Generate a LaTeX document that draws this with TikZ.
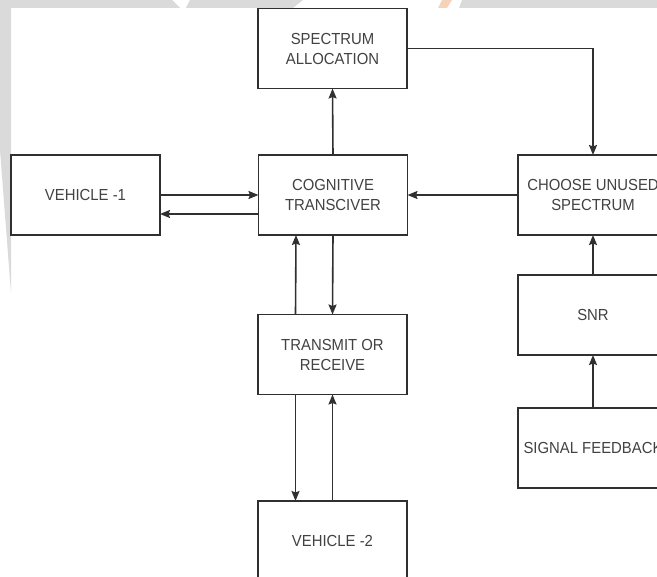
\documentclass[tikz,border=0pt]{standalone}
\usepackage{fontspec}
\setmainfont[FakeStretch=0.93]{Liberation Sans}
\usetikzlibrary{arrows.meta}
\definecolor{boxline}{HTML}{303030}
\definecolor{txt}{HTML}{424242}
\definecolor{wm}{HTML}{DADADA}
\definecolor{wmo}{HTML}{F6D2B8}
\begin{document}
\begin{tikzpicture}[x=1pt,y=-1pt,
  blk/.style={draw=boxline,line width=1.6pt,fill=white,rectangle,inner sep=0pt,outer sep=0pt,
    minimum width=149pt,minimum height=80pt,align=center,text=txt,
    font=\fontsize{16}{20}\selectfont},
  conn/.style={draw=boxline,line width=1.6pt,-{Stealth[length=10pt,width=8pt,inset=1.5pt]}}]
\useasboundingbox (0,0) rectangle (657,577);
\clip (0,0) rectangle (657,577);
\fill[white] (0,0) rectangle (657,577);
% watermark remnants
\fill[wm] (0,0) -- (172,0) -- (180,8) -- (0,8) -- cycle;
\fill[wm] (190,0) -- (303,0) -- (293,8) -- (186,8) -- cycle;
\fill[wm] (462,0) -- (657,0) -- (657,8) -- (459,8) -- cycle;
\fill[wmo] (442,0) -- (452,0) -- (447,8) -- (438,8) -- cycle;
\fill[wm] (0,0) -- (11,0) -- (11,293) -- (0,150) -- cycle;
% nodes
\node[blk] (sa)  at (332.5,48.5) {SPECTRUM\\ALLOCATION};
\node[blk] (v1)  at (85.5,195)   {VEHICLE -1};
\node[blk] (ct)  at (333,195)    {COGNITIVE\\TRANSCIVER};
\node[blk,minimum width=150pt] (cus) at (593,195)   {CHOOSE UNUSED\\SPECTRUM};
\node[blk,minimum width=150pt] (snr) at (593,315)   {SNR};
\node[blk,minimum width=150pt] (sf)  at (593,448)   {SIGNAL FEEDBACK};
\node[blk] (tr)  at (332.5,354.5) {TRANSMIT OR\\RECEIVE};
\node[blk] (v2)  at (332.5,541)  {VEHICLE -2};
% connectors
\draw[conn] (ct.north) -- (sa.south);
\draw[conn] (sa.east) -| (cus.north);
\draw[conn] (v1.east) -- (ct.west);
\draw[conn] ([yshift=-19pt]ct.west) -- ([yshift=-19pt]v1.east);
\draw[conn] (cus.west) -- (ct.east);
\draw[conn] (ct.south) -- (tr.north);
\draw[conn] ([xshift=-37pt]tr.north) -- ([xshift=-37pt]ct.south);
\draw[conn] ([xshift=-37pt]tr.south) -- ([xshift=-37pt]v2.north);
\draw[conn] (v2.north) -- (tr.south);
\draw[conn] (snr.north) -- (cus.south);
\draw[conn] (sf.north) -- (snr.south);
\end{tikzpicture}
\end{document}
